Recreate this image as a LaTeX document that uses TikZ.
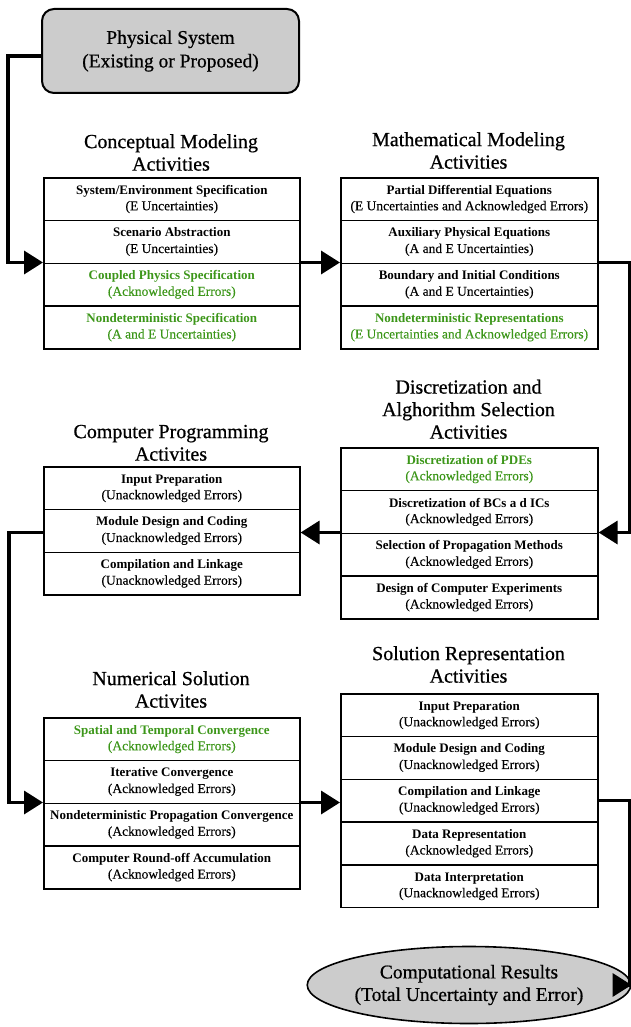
\documentclass[tikz,border=0pt]{standalone}
\usepackage{fontspec}
\setmainfont{Liberation Serif}
\newfontfamily\headfont[FakeBold=0.7]{Liberation Serif}
\newfontfamily\subfont[FakeBold=0.25]{Liberation Serif}
\usetikzlibrary{arrows.meta,shapes.geometric,calc}
\definecolor{tgreen}{RGB}{60,150,25}
\definecolor{boxgray}{RGB}{204,204,204}
\newcommand\rowtxt[2]{\textbf{#1}\\{\subfont\fontsize{13.5}{16}\selectfont #2}}
\begin{document}
\begin{tikzpicture}[x=1pt,y=-1pt,
  rowL/.style={draw, line width=1.6pt, minimum width=256pt, minimum height=42.75pt, inner sep=0pt, anchor=north west, align=center, font=\fontsize{13}{16}\selectfont},
  rowR/.style={rowL, minimum width=257pt},
  greenrow/.style={text=tgreen},
  head/.style={anchor=south, inner sep=0pt, align=center, font=\headfont\fontsize{20}{22.5}\selectfont},
  physbox/.style={draw, fill=boxgray, rounded corners=12pt, line width=2pt, minimum width=257pt, minimum height=84pt, inner sep=0pt, align=center, font=\headfont\fontsize{19.5}{23.5}\selectfont},
  resell/.style={ellipse, draw, fill=boxgray, line width=1.6pt, minimum width=258pt, minimum height=77pt, inner sep=0pt, align=center, font=\headfont\fontsize{19.5}{22.5}\selectfont},
  conn/.style={line width=3.5pt, -{Triangle[length=19pt,width=23pt]}}
]
\useasboundingbox (0,0) rectangle (630,1027);

\node[physbox] (phys) at (170.5,51) {Physical System\\(Existing or Proposed)};

% headings
\node[head] (hc) at (171,171) {Conceptual Modeling\\Activities};
\node[head] (hm) at (468.5,169) {Mathematical Modeling\\Activities};
\node[head] (hd) at (468.5,439) {Discretization and\\Alghorithm Selection\\Activities};
\node[head] (hp) at (171,461) {Computer Programming\\Activites};
\node[head] (hn) at (171,708) {Numerical Solution\\Activites};
\node[head] (hs) at (468.5,683) {Solution Representation\\Activities};

% conceptual
\node[rowL] (c1) at (43,177) {\rowtxt{System/Environment Specification}{(E Uncertainties)}};
\node[rowL] (c2) at (43,219.75) {\rowtxt{Scenario Abstraction}{(E Uncertainties)}};
\node[rowL,greenrow] (c3) at (43,262.5) {\rowtxt{Coupled Physics Specification}{(Acknowledged Errors)}};
\node[rowL,greenrow] (c4) at (43,305.25) {\rowtxt{Nondeterministic Specification}{(A and E Uncertainties)}};

% mathematical
\node[rowR] (m1) at (340,177) {\rowtxt{Partial Differential Equations}{(E Uncertainties and Acknowledged Errors)}};
\node[rowR] (m2) at (340,219.75) {\rowtxt{Auxiliary Physical Equations}{(A and E Uncertainties)}};
\node[rowR] (m3) at (340,262.5) {\rowtxt{Boundary and Initial Conditions}{(A and E Uncertainties)}};
\node[rowR,greenrow] (m4) at (340,305.25) {\rowtxt{Nondeterministic Representations}{(E Uncertainties and Acknowledged Errors)}};

% discretization
\node[rowR,greenrow] (d1) at (340,447) {\rowtxt{Discretization of PDEs}{(Acknowledged Errors)}};
\node[rowR] (d2) at (340,489.75) {\rowtxt{Discretization of BCs a d ICs}{(Acknowledged Errors)}};
\node[rowR] (d3) at (340,532.5) {\rowtxt{Selection of Propagation Methods}{(Acknowledged Errors)}};
\node[rowR] (d4) at (340,575.25) {\rowtxt{Design of Computer Experiments}{(Acknowledged Errors)}};

% computer programming
\node[rowL] (p1) at (43,466) {\rowtxt{Input Preparation}{(Unacknowledged Errors)}};
\node[rowL] (p2) at (43,508.75) {\rowtxt{Module Design and Coding}{(Unacknowledged Errors)}};
\node[rowL] (p3) at (43,551.5) {\rowtxt{Compilation and Linkage}{(Unacknowledged Errors)}};

% numerical solution
\node[rowL,greenrow] (n1) at (43,717) {\rowtxt{Spatial and Temporal Convergence}{(Acknowledged Errors)}};
\node[rowL] (n2) at (43,759.75) {\rowtxt{Iterative Convergence}{(Acknowledged Errors)}};
\node[rowL] (n3) at (43,802.5) {\rowtxt{Nondeterministic Propagation Convergence}{(Acknowledged Errors)}};
\node[rowL] (n4) at (43,845.25) {\rowtxt{Computer Round-off Accumulation}{(Acknowledged Errors)}};

% solution representation
\node[rowR] (s1) at (340,693) {\rowtxt{Input Preparation}{(Unacknowledged Errors)}};
\node[rowR] (s2) at (340,735.75) {\rowtxt{Module Design and Coding}{(Unacknowledged Errors)}};
\node[rowR] (s3) at (340,778.5) {\rowtxt{Compilation and Linkage}{(Unacknowledged Errors)}};
\node[rowR] (s4) at (340,821.25) {\rowtxt{Data Representation}{(Acknowledged Errors)}};
\node[rowR] (s5) at (340,864) {\rowtxt{Data Interpretation}{(Unacknowledged Errors)}};

\node[resell] (res) at (469,985) {Computational Results\\(Total Uncertainty and Error)};

% connectors
\draw[conn] (phys.west) ++(0,5) -- ++(-33,0) |- (c3.north west);
\draw[conn] (c3.north east) -- (m3.north west);
\draw[conn] (m3.north east) -- ++(31,0) |- (d3.north east);
\draw[conn] (d3.north west) -- (d3.north west -| p2.east);
\draw[conn] (p2.west |- d3.north west) -- ++(-34,0) |- (n3.north west);
\draw[conn] (n3.north east) -- (n3.north east -| s3.west);
\draw[conn] (s3.east) -- ++(31,0) |- (res.east);
\end{tikzpicture}
\end{document}
